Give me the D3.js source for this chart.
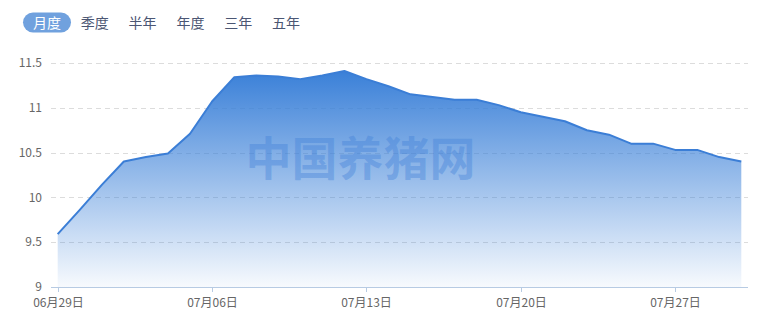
<!DOCTYPE html>
<html>
<head>
<meta charset="utf-8">
<script src="https://cdn.jsdelivr.net/npm/d3@7"></script>
<style>
  html, body { margin: 0; padding: 0; background: #fff; }
  svg { display: block; font-family: "Noto Sans CJK SC", "Noto Sans", sans-serif; }
</style>
</head>
<body>
<div id="chart"></div>
<script>
// tabs above the chart
const tabs = ['月度', '季度', '半年', '年度', '三年', '五年'];
const activeTab = '月度';

// daily price, 06-29 .. 07-30
const startDate = '06-29';
const endDate = '07-30';
const prices = [
  9.59, 9.86, 10.14, 10.40, 10.45, 10.49, 10.71, 11.07,
  11.34, 11.36, 11.35, 11.32, 11.36, 11.41, 11.32, 11.24,
  11.15, 11.12, 11.09, 11.09, 11.03, 10.95, 10.90, 10.85,
  10.75, 10.70, 10.60, 10.60, 10.53, 10.53, 10.45, 10.40,
];

const yTicks = [9, 9.5, 10, 10.5, 11, 11.5];
const xTicks = ['06-29', '07-06', '07-13', '07-20', '07-27'];
const watermark = '中国养猪网';

const props = {
  width: 760,
  height: 318,
  margin: { top: 63, right: 12, bottom: 31, left: 51 },
  pad: 6.7,
  line: '#3b7ed6',
  axis: '#b7cbe3',
  grid: '#dcdcdc',
  label: '#666',
  tabText: '#4b5673',
  tabActive: '#70a1de',
};

const parse = d3.timeParse('%m-%d');
const dates = d3.timeDay.range(parse(startDate), d3.timeDay.offset(parse(endDate), 1));
const data = dates.map((d, i) => ({ date: d, value: prices[i] }));

const { width, height, margin } = props;
const x0 = margin.left;
const x1 = width - margin.right;
const y0 = height - margin.bottom;

const xScale = d3.scaleTime()
  .domain(d3.extent(dates))
  .range([x0 + props.pad, x1 - props.pad]);

const yScale = d3.scaleLinear()
  .domain([9, 11.5])
  .range([y0, margin.top]);

const svg = d3.select('#chart').append('svg')
  .attr('width', width)
  .attr('height', height);

// tabs
const tab = svg.append('g').attr('class', 'tabs')
  .selectAll('g')
  .data(tabs)
  .join('g')
  .attr('transform', (d, i) => `translate(${47 + i * 47.8},22.5)`);

tab.filter((d) => d === activeTab)
  .append('rect')
  .attr('x', -24)
  .attr('y', -10)
  .attr('width', 48)
  .attr('height', 20)
  .attr('rx', 10)
  .attr('fill', props.tabActive);

tab.append('text')
  .attr('text-anchor', 'middle')
  .attr('dy', '0.36em')
  .style('font-size', '14px')
  .attr('fill', (d) => (d === activeTab ? '#fff' : props.tabText))
  .text((d) => d);

// grid
svg.append('g').attr('class', 'grid')
  .selectAll('line')
  .data(yTicks.slice(1))
  .join('line')
  .attr('x1', x0)
  .attr('x2', x1)
  .attr('y1', (d) => Math.round(yScale(d)) + 0.5)
  .attr('y2', (d) => Math.round(yScale(d)) + 0.5)
  .attr('stroke', props.grid)
  .attr('stroke-dasharray', '5,4');

// y labels
svg.append('g').attr('class', 'axis y')
  .selectAll('text')
  .data(yTicks)
  .join('text')
  .attr('x', x0 - 9)
  .attr('y', (d) => yScale(d))
  .attr('dy', '0.35em')
  .attr('text-anchor', 'end')
  .attr('fill', props.label)
  .style('font-size', '12px')
  .text((d) => d3.format('~g')(d));

// gradient
const defs = svg.append('defs');
const grad = defs.append('linearGradient')
  .attr('id', 'area-grad')
  .attr('x1', 0).attr('y1', 0)
  .attr('x2', 0).attr('y2', 1);
grad.append('stop').attr('offset', '0%')
  .attr('stop-color', '#3a80d8').attr('stop-opacity', 1);
grad.append('stop').attr('offset', '100%')
  .attr('stop-color', '#3a80d8').attr('stop-opacity', 0.04);

const area = d3.area()
  .x((d) => xScale(d.date))
  .y0(yScale(9))
  .y1((d) => yScale(d.value));

const line = d3.line()
  .x((d) => xScale(d.date))
  .y((d) => yScale(d.value));

svg.append('path')
  .datum(data)
  .attr('d', area)
  .attr('fill', 'url(#area-grad)');

// watermark
svg.append('text')
  .attr('x', (x0 + x1) / 2 - 39)
  .attr('y', 158)
  .attr('dy', '0.36em')
  .attr('text-anchor', 'middle')
  .attr('fill', '#3f7fd8')
  .attr('fill-opacity', 0.38)
  .style('font-size', '46px')
  .style('font-weight', 700)
  .text(watermark);

svg.append('path')
  .datum(data)
  .attr('d', line)
  .attr('fill', 'none')
  .attr('stroke', props.line)
  .attr('stroke-width', 2)
  .attr('stroke-linejoin', 'round');

// x axis
const xAxis = svg.append('g').attr('class', 'axis x');
xAxis.append('line')
  .attr('x1', x0).attr('x2', x1)
  .attr('y1', y0 + 0.5).attr('y2', y0 + 0.5)
  .attr('stroke', props.axis);

const xt = xAxis.selectAll('g.tick')
  .data(xTicks.map(parse))
  .join('g')
  .attr('class', 'tick')
  .attr('transform', (d) => `translate(${Math.round(xScale(d)) + 0.5},${y0})`);

xt.append('line')
  .attr('y1', 0).attr('y2', 5)
  .attr('stroke', props.axis);

xt.append('text')
  .attr('y', 11)
  .attr('dy', '0.71em')
  .attr('text-anchor', 'middle')
  .attr('fill', props.label)
  .style('font-size', '12px')
  .text(d3.timeFormat('%m月%d日'));
</script>
</body>
</html>
